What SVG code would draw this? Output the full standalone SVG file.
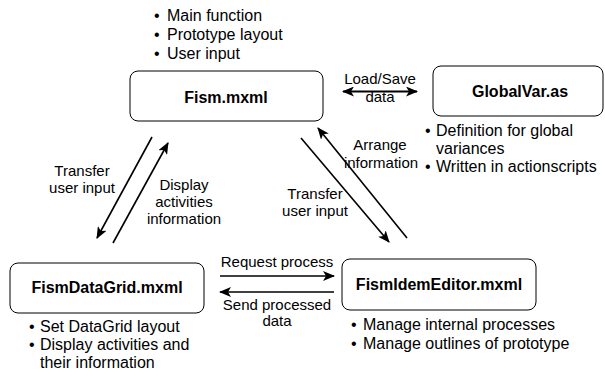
<svg xmlns="http://www.w3.org/2000/svg" width="605" height="376" viewBox="0 0 605 376">
  <style>
    .box { fill: #ffffff; stroke: #000000; stroke-width: 1; }
    .title { font-family: "Liberation Sans", Arial, sans-serif; font-size: 16px; font-weight: bold; fill: #000000; text-anchor: middle; }
    .lbl { font-family: "Liberation Sans", Arial, sans-serif; font-size: 15px; fill: #000000; text-anchor: middle; }
    .bul { font-family: "Liberation Sans", Arial, sans-serif; font-size: 16px; fill: #000000; }
    .conn { stroke: #000000; stroke-width: 1.6; fill: none; marker-end: url(#ah); }
    .dbl { stroke: #000000; stroke-width: 2.2; fill: none; marker-end: url(#ah); marker-start: url(#ah); }
  </style>
  <defs>
    <marker id="ah" markerUnits="userSpaceOnUse" markerWidth="12" markerHeight="10" refX="11" refY="5" orient="auto-start-reverse" viewBox="0 0 12 10">
      <path d="M0,0 L12,5 L0,10 L3,5 z" fill="#000000"/>
    </marker>
  </defs>

  <g id="node-fism">
    <rect class="box" x="130" y="71" width="193" height="50" rx="8"/>
    <text class="title" x="226" y="103">Fism.mxml</text>
    <text class="bul" y="21"><tspan x="154">•</tspan><tspan x="167">Main function</tspan></text>
    <text class="bul" y="40"><tspan x="154">•</tspan><tspan x="167">Prototype layout</tspan></text>
    <text class="bul" y="59"><tspan x="154">•</tspan><tspan x="167">User input</tspan></text>
  </g>

  <g id="node-globalvar">
    <rect class="box" x="433" y="66" width="170" height="50" rx="8"/>
    <text class="title" x="520" y="97">GlobalVar.as</text>
    <text class="bul" y="136"><tspan x="425">•</tspan><tspan x="436">Definition for global</tspan></text>
    <text class="bul" x="436" y="154">variances</text>
    <text class="bul" y="172"><tspan x="425">•</tspan><tspan x="436">Written in actionscripts</tspan></text>
  </g>

  <g id="node-datagrid">
    <rect class="box" x="10" y="263" width="194" height="50" rx="8"/>
    <text class="title" x="107" y="293">FismDataGrid.mxml</text>
    <text class="bul" y="332"><tspan x="29">•</tspan><tspan x="40">Set DataGrid layout</tspan></text>
    <text class="bul" y="350"><tspan x="29">•</tspan><tspan x="40">Display activities and</tspan></text>
    <text class="bul" x="40" y="368">their information</text>
  </g>

  <g id="node-editor">
    <rect class="box" x="342" y="259" width="194" height="51" rx="8"/>
    <text class="title" x="439" y="290">FismIdemEditor.mxml</text>
    <text class="bul" y="330"><tspan x="351">•</tspan><tspan x="363">Manage internal processes</tspan></text>
    <text class="bul" y="349"><tspan x="351">•</tspan><tspan x="363">Manage outlines of prototype</tspan></text>
  </g>

  <g id="connectors">
    <line class="dbl" x1="343" y1="91.5" x2="417" y2="91.5"/>
    <text class="lbl" x="380" y="84">Load/Save</text>
    <text class="lbl" x="380" y="102">data</text>

    <line class="conn" x1="152" y1="137" x2="97" y2="238"/>
    <text class="lbl" x="82" y="176">Transfer</text>
    <text class="lbl" x="82" y="193">user input</text>

    <line class="conn" x1="113" y1="243" x2="168" y2="143"/>
    <text class="lbl" x="184" y="190">Display</text>
    <text class="lbl" x="184" y="207">activities</text>
    <text class="lbl" x="184" y="224">information</text>

    <line class="conn" x1="301" y1="138" x2="389" y2="242"/>
    <text class="lbl" x="315" y="199">Transfer</text>
    <text class="lbl" x="315" y="216">user input</text>

    <line class="conn" x1="407" y1="238" x2="318" y2="128"/>
    <text class="lbl" x="380" y="150">Arrange</text>
    <text class="lbl" x="381" y="168">information</text>

    <line class="conn" x1="220" y1="276" x2="334" y2="276"/>
    <text class="lbl" x="277" y="267">Request process</text>

    <line class="conn" x1="334" y1="292" x2="220" y2="292"/>
    <text class="lbl" x="277" y="310">Send processed</text>
    <text class="lbl" x="277" y="326">data</text>
  </g>
</svg>
